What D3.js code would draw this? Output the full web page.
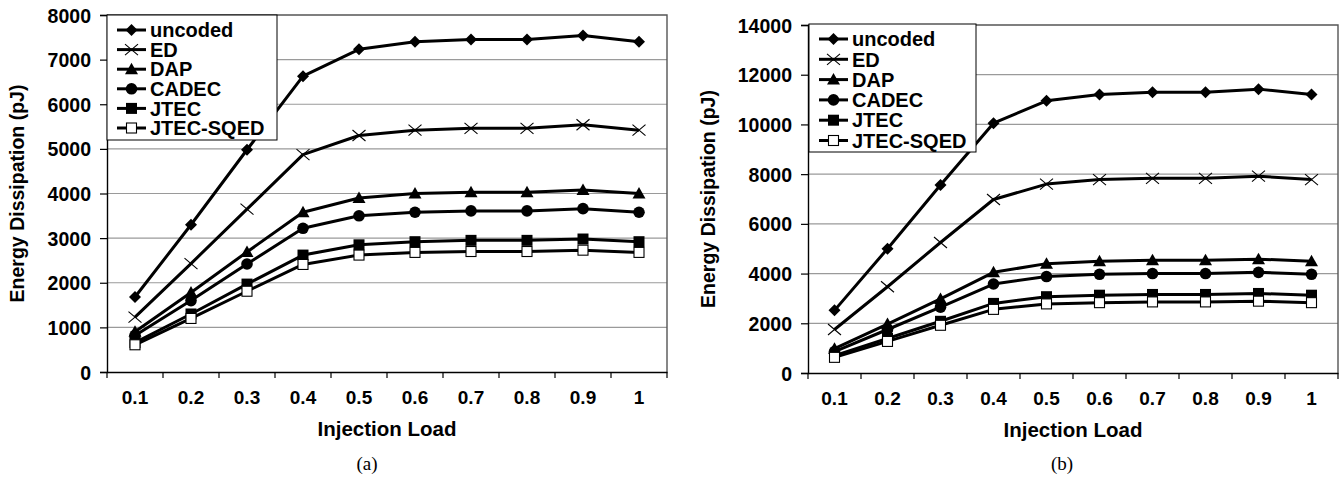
<!DOCTYPE html>
<html><head><meta charset="utf-8">
<script src="https://cdn.jsdelivr.net/npm/d3@7"></script>
<style>body{margin:0;background:#fff}svg{display:block}</style>
</head><body>
<svg id="c" width="1344" height="478"></svg>
<script>
const loads = ["0.1","0.2","0.3","0.4","0.5","0.6","0.7","0.8","0.9","1"];
const seriesNames = ["uncoded","ED","DAP","CADEC","JTEC","JTEC-SQED"];
const symbols = ["diamond","x","triangle","circle","square","squareOpen"];
// (a)
const a_uncoded = [1680,3300,4980,6630,7230,7400,7450,7450,7540,7400];
const a_ED      = [1230,2430,3650,4870,5300,5420,5460,5460,5540,5420];
const a_DAP     = [900,1780,2690,3580,3900,4000,4030,4030,4080,4000];
const a_CADEC   = [820,1600,2420,3220,3500,3580,3610,3610,3660,3580];
const a_JTEC    = [660,1300,1970,2620,2850,2920,2950,2950,2980,2920];
const a_SQED    = [610,1200,1810,2410,2620,2680,2700,2700,2730,2680];
const a_ticks = [0,1000,2000,3000,4000,5000,6000,7000,8000];
// (b)
const b_uncoded = [2520,5000,7560,10050,10950,11200,11290,11290,11420,11200];
const b_ED      = [1750,3470,5250,6980,7600,7780,7830,7830,7920,7780];
const b_DAP     = [980,1970,2980,4050,4400,4500,4540,4540,4580,4500];
const b_CADEC   = [860,1750,2650,3580,3880,3970,4000,4000,4050,3970];
const b_JTEC    = [700,1390,2080,2800,3070,3130,3160,3160,3200,3130];
const b_SQED    = [630,1270,1920,2560,2780,2830,2860,2860,2890,2830];
const b_ticks = [0,2000,4000,6000,8000,10000,12000,14000];

const svg = d3.select("#c");
const SANS = "Liberation Sans, Arial, Helvetica, sans-serif";

function marker(g, type, x, y) {
  const s = 6;
  if (type === "diamond") {
    g.append("path").attr("d", `M${x},${y-s}L${x+s},${y}L${x},${y+s}L${x-s},${y}Z`).attr("fill","#000");
  } else if (type === "x") {
    g.append("path").attr("d", `M${x-6.5},${y-5.5}L${x+6.5},${y+5.5}M${x-6.5},${y+5.5}L${x+6.5},${y-5.5}`).attr("stroke","#000").attr("stroke-width",1.1).attr("fill","none");
  } else if (type === "triangle") {
    g.append("path").attr("d", `M${x},${y-6.5}L${x+6.5},${y+5}L${x-6.5},${y+5}Z`).attr("fill","#000");
  } else if (type === "circle") {
    g.append("circle").attr("cx",x).attr("cy",y).attr("r",5.8).attr("fill","#000");
  } else if (type === "square") {
    g.append("rect").attr("x",x-5.5).attr("y",y-5.5).attr("width",11).attr("height",11).attr("fill","#000");
  } else if (type === "squareOpen") {
    g.append("rect").attr("x",x-5).attr("y",y-5).attr("width",10).attr("height",10).attr("fill","#fff").attr("stroke","#000").attr("stroke-width",1.1);
  }
}

function drawChart(cfg) {
  const {left, right, top, bottom, ticks, data, ymax, caption, capX, titleX, legend} = cfg;
  const g = svg.append("g");
  const x = d3.scaleBand().domain(loads).range([left, right]);
  const y = d3.scaleLinear().domain([0, ymax]).range([bottom, top]);

  // gridlines
  g.selectAll(".grid").data(ticks.filter(t => t > 0 && t < ymax)).enter().append("line")
    .attr("x1", left).attr("x2", right).attr("y1", d => y(d)).attr("y2", d => y(d))
    .attr("stroke", "#9a9a9a").attr("stroke-width", 1.2);
  // border top/right
  g.append("path").attr("d", `M${left},${top}H${right}V${bottom}`).attr("fill","none").attr("stroke","#555").attr("stroke-width",1.4);

  // y axis
  const ya = g.append("g").attr("transform", `translate(${left},0)`)
    .call(d3.axisLeft(y).tickValues(ticks).tickSize(7).tickPadding(16).tickFormat(d3.format("d")));
  ya.select(".domain").attr("stroke","#000").attr("stroke-width",1.4);
  ya.selectAll(".tick line").attr("stroke","#000").attr("stroke-width",1.2);
  ya.selectAll("text").attr("font-family",SANS).attr("font-weight","bold")
    .attr("font-size","19.5px").attr("fill","#000").attr("x", -16).attr("dy","0.36em");

  // x axis
  const xa = g.append("g").attr("transform", `translate(0,${bottom})`)
    .call(d3.axisBottom(x).tickSize(0));
  xa.select(".domain").attr("stroke","#000").attr("stroke-width",1.4);
  xa.selectAll("text").attr("font-family",SANS).attr("font-weight","bold")
    .attr("font-size","19px").attr("fill","#000").attr("y", 32).attr("dy", 0);
  // boundary ticks
  g.selectAll(".bt").data(d3.range(loads.length + 1)).enter().append("line")
    .attr("x1", i => left + i * x.step()).attr("x2", i => left + i * x.step())
    .attr("y1", bottom).attr("y2", bottom + 6).attr("stroke","#000").attr("stroke-width",1.2);

  // titles
  g.append("text").attr("x", (left + right) / 2).attr("y", bottom + 64).attr("text-anchor","middle")
    .attr("font-family",SANS).attr("font-weight","bold").attr("font-size","20.5px")
    .text("Injection Load");
  g.append("text").attr("transform", `translate(${titleX},${(top + bottom) / 2}) rotate(-90)`).attr("text-anchor","middle")
    .attr("font-family",SANS).attr("font-weight","bold").attr("font-size","19.5px")
    .text("Energy Dissipation (pJ)");
  g.append("text").attr("x", capX).attr("y", 470).attr("text-anchor","middle")
    .attr("font-family","Liberation Serif, Times New Roman, serif").attr("font-size","19px").text(caption);

  // lines
  const line = d3.line().x((d, i) => x(loads[i]) + x.bandwidth() / 2).y(d => y(d));
  data.forEach((vals) => {
    g.append("path").datum(vals).attr("d", line).attr("fill","none").attr("stroke","#000").attr("stroke-width",3).attr("stroke-linejoin","round");
  });
  data.forEach((vals, si) => {
    vals.forEach((v, i) => marker(g, symbols[si], x(loads[i]) + x.bandwidth() / 2, y(v)));
  });

  // legend
  const lg = g.append("g");
  lg.append("rect").attr("x", legend.x).attr("y", legend.y).attr("width", legend.w).attr("height", legend.h)
    .attr("fill","#fff").attr("stroke","#000").attr("stroke-width",1);
  seriesNames.forEach((n, i) => {
    const cy = legend.y + 15 + i * legend.step;
    lg.append("line").attr("x1", legend.x + 10).attr("x2", legend.x + 39).attr("y1", cy).attr("y2", cy)
      .attr("stroke","#000").attr("stroke-width",3);
    marker(lg, symbols[i], legend.x + 24.5, cy);
    lg.append("text").attr("x", legend.x + 43).attr("y", cy).attr("dy","0.36em")
      .attr("font-family",SANS).attr("font-weight","bold").attr("font-size","20px").text(n);
  });
}

drawChart({left:107, right:667, top:15, bottom:372, ymax:8000, ticks:a_ticks,
  data:[a_uncoded,a_ED,a_DAP,a_CADEC,a_JTEC,a_SQED], caption:"(a)", capX:367, titleX:24,
  legend:{x:107, y:15, w:170, h:125, step:19.6}});
drawChart({left:808, right:1338, top:25, bottom:373, ymax:14000, ticks:b_ticks,
  data:[b_uncoded,b_ED,b_DAP,b_CADEC,b_JTEC,b_SQED], caption:"(b)", capX:1062, titleX:715,
  legend:{x:809, y:24, w:167, h:128, step:20.3}});
</script>
</body></html>
